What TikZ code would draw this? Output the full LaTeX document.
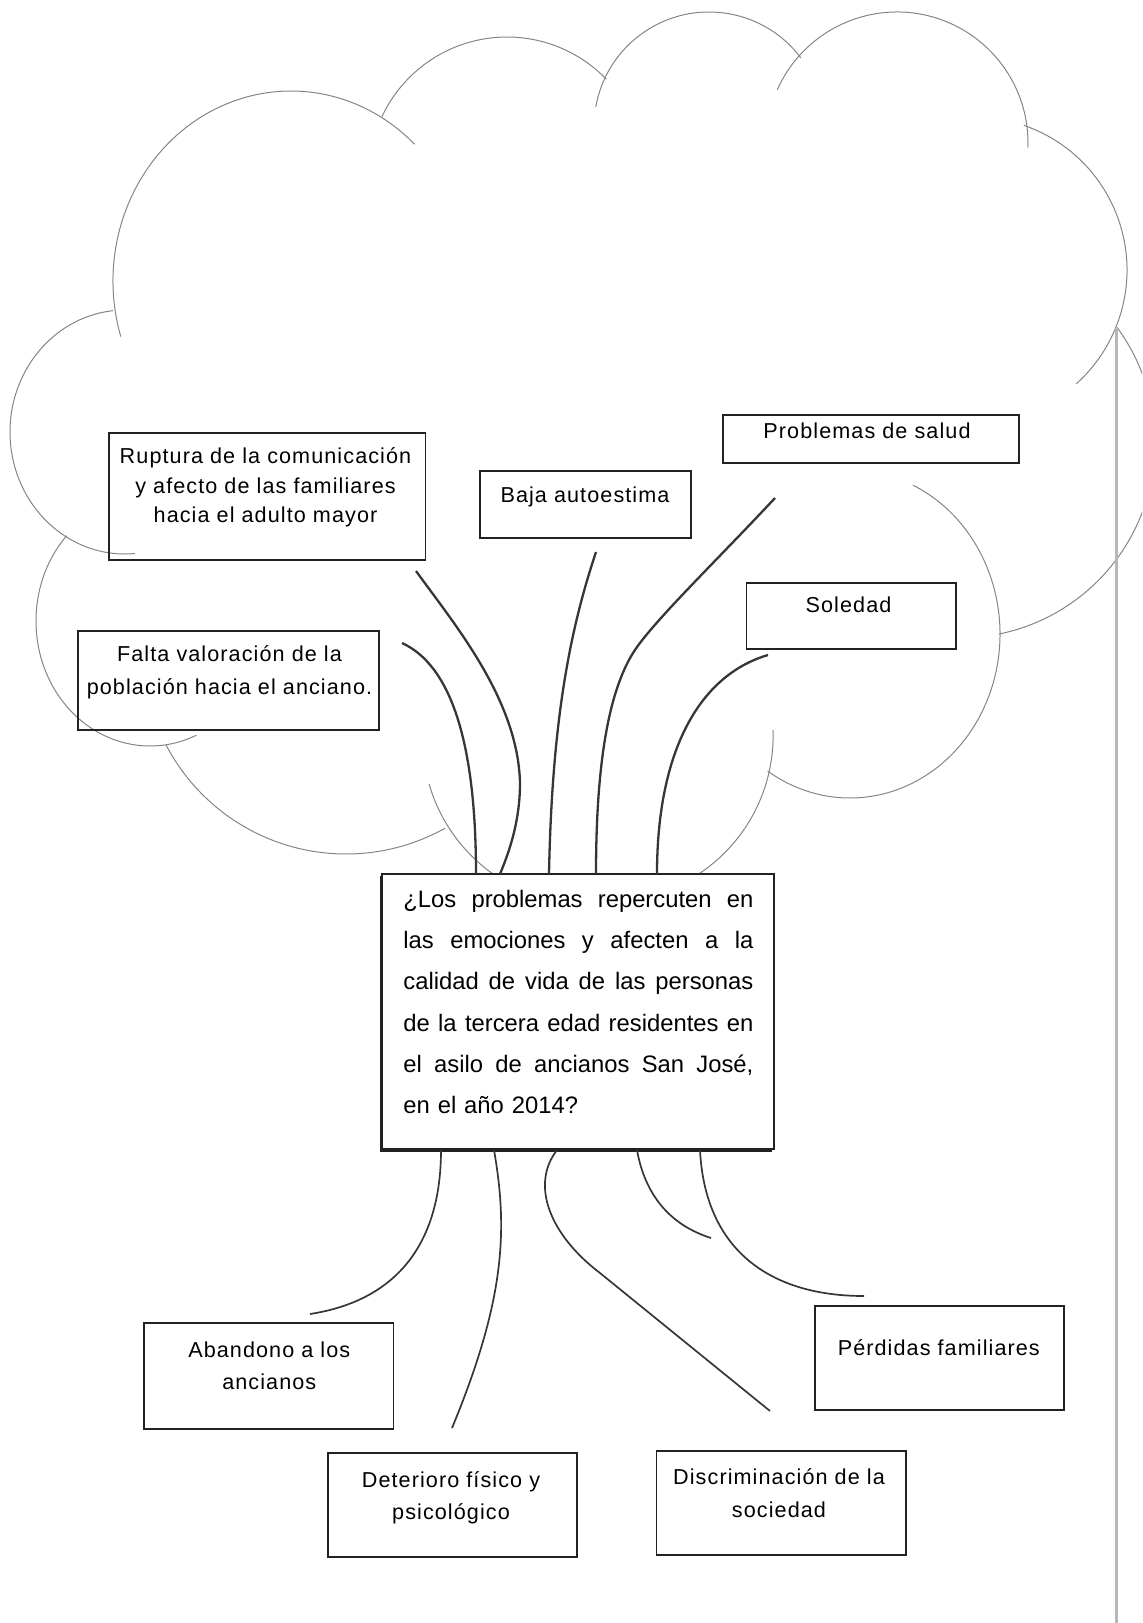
\documentclass[tikz,border=0pt]{standalone}
\usepackage{fontspec}
\setmainfont{Liberation Sans}
\newfontfamily\boxfont[LetterSpace=5]{Liberation Sans}
\newfontfamily\qfont{Liberation Sans}
\usetikzlibrary{fit}
\definecolor{cloudgray}{HTML}{858585}
\definecolor{branchgray}{HTML}{363636}
\definecolor{boxgray}{HTML}{222222}
\definecolor{vlinegray}{HTML}{B4B7BD}
\newcommand\jline[1]{\makebox[175pt][s]{\spaceskip=0pt\xspaceskip=0pt\relax #1}}
\tikzset{
  cloudarc/.style={draw=cloudgray, line width=0.5pt},
  branchup/.style={draw=branchgray, line width=1.15pt},
  branchdn/.style={draw=branchgray, line width=0.85pt},
  boxline/.style={draw=boxgray, line width=0.95pt, inner sep=0pt},
  lbl/.style={inner sep=0pt, align=center, text=black},
  vline/.style={draw=vlinegray, line width=1.3pt},
}
\begin{document}
\begin{tikzpicture}[x=0.5pt,y=-0.5pt]
\useasboundingbox (0,0) rectangle (1142,1623);
\clip (0,0) rectangle (1142,1623);

% ---- cloud outline (arcs)
\draw[cloudarc] (291,281) ++(163:178 and 190) arc[start angle=163,end angle=314,x radius=178,y radius=190];
\draw[cloudarc] (507,175) ++(205:138) arc[start angle=205,end angle=316,radius=138];
\draw[cloudarc] (709,127) ++(190:115) arc[start angle=190,end angle=323,radius=115];
\draw[cloudarc] (897,143) ++(204:131) arc[start angle=204,end angle=362,radius=131];
\draw[cloudarc] (974,270) ++(289:153) arc[start angle=289,end angle=408,radius=153];
\draw[cloudarc] (960,443) ++(323.6:195) arc[start angle=323.6,end angle=438.6,radius=195];
\draw[cloudarc] (850,634) ++(294.8:150 and 164) arc[start angle=294.8,end angle=483.3,x radius=150,y radius=164];
\draw[cloudarc] (607.6,735.8) ++(-2:165.5) arc[start angle=-2,end angle=56.7,radius=165.5];
\draw[cloudarc] (588.7,738.3) ++(164:166) arc[start angle=164,end angle=125.2,radius=166];
\draw[cloudarc] (346,651) ++(152.4:203) arc[start angle=152.4,end angle=60.8,radius=203];
\draw[cloudarc] (150,621) ++(223:114 and 125) arc[start angle=223,end angle=66,x radius=114,y radius=125];
\draw[cloudarc] (125,432) ++(264:115 and 122) arc[start angle=264,end angle=85,x radius=115,y radius=122];

% ---- right vertical line
\coordinate (vtop) at (1116.5,328);
\coordinate (vbot) at (1116.5,1623);
\draw[vline] (vtop) -- (vbot);

% ---- boxes
\node[boxline, fit={(108.7,432.8) (425.5,560.2)}] (ruptura) {};
\node[boxline, fit={(77.7,630.6) (379,730)}] (falta) {};
\node[boxline, fit={(480.4,471.1) (690.6,538.4)}] (baja) {};
\node[boxline, fit={(722.7,415.2) (1018.8,462.8)}] (salud) {};
\node[boxline, fit={(746.5,582.9) (955.7,649.2)}] (soledad) {};
\node[boxline, fit={(143.9,1323.2) (393.5,1428.9)}] (abandono) {};
\node[boxline, fit={(328.2,1452.7) (576.7,1557.3)}] (deterioro) {};
\node[boxline, fit={(656.5,1450.6) (906,1555.2)}] (discrim) {};
\node[boxline, fit={(814.9,1305.6) (1064.4,1410.2)}] (perdidas) {};

% ---- central question box with shadow
\node[inner sep=0pt, fill=boxgray, fit={(379.5,876) (772,1151.5)}] (qshadow) {};
\node[boxline, fill=white, fit={(382,874) (774,1149)}] (q) {};

% ---- labels
\node[lbl, font={\boxfont\fontsize{10.8pt}{14.75pt}\selectfont}] (ruptt) at (265.5,487.5)
  {Ruptura de la comunicación\\y afecto de las familiares\\hacia el adulto mayor};
\node[lbl, font={\boxfont\fontsize{10.8pt}{16.25pt}\selectfont}] (faltt) at (229.5,672.3)
  {Falta valoración de la\\población hacia el anciano.};
\node[lbl, anchor=base, font={\boxfont\fontsize{10.8pt}{14.75pt}\selectfont}] (bajat) at (585,502) {Baja autoestima};
\node[lbl, anchor=base, font={\boxfont\fontsize{10.8pt}{14.75pt}\selectfont}] (saludt) at (867,438.5) {Problemas de salud};
\node[lbl, anchor=base, font={\boxfont\fontsize{10.8pt}{14.75pt}\selectfont}] (soledadt) at (848.5,612.5) {Soledad};
\node[lbl, anchor=base, font={\boxfont\fontsize{10.8pt}{14.75pt}\selectfont}] (perdidast) at (938.8,1355) {Pérdidas familiares};
\node[lbl, font={\boxfont\fontsize{10.8pt}{15.85pt}\selectfont}] (abandonot) at (269.3,1366)
  {Abandono a los\\ancianos};
\node[lbl, font={\boxfont\fontsize{10.8pt}{16pt}\selectfont}] (deteriorot) at (451,1497.5)
  {Deterioro físico y\\psicológico};
\node[lbl, font={\boxfont\fontsize{10.8pt}{16.2pt}\selectfont}] (discrimt) at (779,1493)
  {Discriminación de la\\sociedad};

\node[inner sep=0pt, anchor=north west, text width=175pt, align=left,
      font={\qfont\fontsize{11.9pt}{20.65pt}\selectfont}] (qt) at (403,889.5)
  {\jline{¿Los problemas repercuten en}\\
   \jline{las emociones y afecten a la}\\
   \jline{calidad de vida de las personas}\\
   \jline{de la tercera edad residentes en}\\
   \jline{el asilo de ancianos San José,}\\
   en el año 2014?};

% ---- connector end points
\coordinate (ruptS) at (416,571);  \coordinate (ruptE) at (500,874);
\coordinate (faltS) at (402,643);  \coordinate (faltE) at (476,874);
\coordinate (bajaS) at (596,552);  \coordinate (bajaE) at (549,874);
\coordinate (saludS) at (775,498); \coordinate (saludE) at (596,874);
\coordinate (soleS) at (768,655);  \coordinate (soleE) at (657,874);
\coordinate (abanS) at (441,1150); \coordinate (abanE) at (310,1314);
\coordinate (detS) at (494,1150);  \coordinate (detE) at (452,1428);
\coordinate (discS) at (557,1150); \coordinate (discE) at (770,1411);
\coordinate (smS) at (637,1150);   \coordinate (smE) at (711,1238);
\coordinate (perdS) at (700,1150); \coordinate (perdE) at (864,1296);

% ---- upper branches
\draw[branchup] (ruptS) .. controls (455,625) and (518,700) .. (520,783) .. controls (520,820) and (510,850) .. (ruptE);
\draw[branchup] (faltS) .. controls (450,665) and (476,740) .. (faltE);
\draw[branchup] (bajaS) .. controls (570,630) and (552,720) .. (bajaE);
\draw[branchup] (saludS) .. controls (720,557) and (660,615) .. (637,647) .. controls (612,682) and (596,750) .. (saludE);
\draw[branchup] (soleS) .. controls (700,675) and (657,750) .. (soleE);

% ---- lower branches
\draw[branchdn] (abanS) .. controls (441,1240) and (400,1300) .. (abanE);
\draw[branchdn] (detS) .. controls (508,1230) and (505,1300) .. (detE);
\draw[branchdn] (discS) .. controls (530,1185) and (550,1235) .. (600,1273) -- (discE);
\draw[branchdn] (smS) .. controls (645,1195) and (670,1225) .. (smE);
\draw[branchdn] (perdS) .. controls (705,1250) and (770,1296) .. (perdE);
\end{tikzpicture}
\end{document}
